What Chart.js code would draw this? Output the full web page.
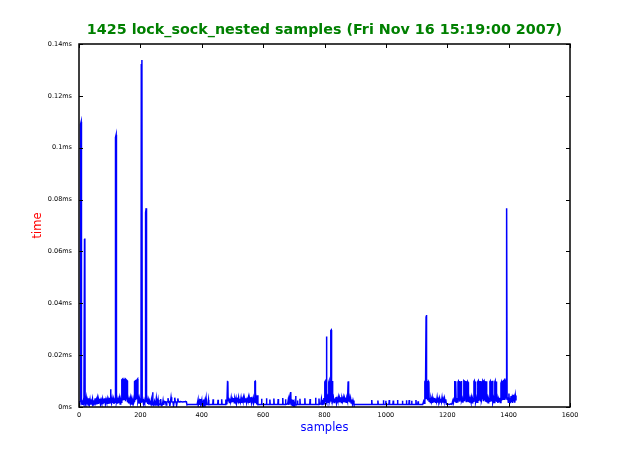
<!DOCTYPE html>
<html>
<head>
<meta charset="utf-8">
<script src="https://cdn.jsdelivr.net/npm/chart.js@4/dist/chart.umd.min.js"></script>
<style>
  body { margin: 0; background: #fff; }
  canvas { display: block; }
</style>
</head>
<body>
<canvas id="lockChart" width="633" height="453"></canvas>
<script>
// samples (x) vs time in ms (y)
const trace = [
  [0,0.0022],[2,0.0018],[4,0.0021],[5,0.109],[7,0.110],[8,0.0015],[10,0.002],[12,0.0008],[14,0.0022],[16,0.0012],
  [18,0.0645],[19,0.065],[20,0.0015],[22,0.0008],[24,0.0032],[26,0.001],[28,0.0025],[30,0.0008],[32,0.0034],[34,0.0012],
  [36,0.0028],[38,0.0009],[40,0.0022],[42,0.0015],[44,0.003],[46,0.0008],[48,0.0026],[50,0.0012],[52,0.0033],[54,0.0017],
  [56,0.0027],[58,0.001],[60,0.0031],[62,0.0014],[64,0.0028],[66,0.0018],[68,0.0032],[70,0.0012],[72,0.0026],[74,0.0016],
  [76,0.003],[78,0.0011],[80,0.0025],[82,0.0017],[84,0.0034],[86,0.0013],[88,0.0028],[90,0.0019],[92,0.0031],[94,0.0012],
  [96,0.0027],[98,0.0015],[100,0.0036],[102,0.0018],[103,0.0068],[104,0.0025],[106,0.0014],[108,0.0032],[110,0.0016],[112,0.003],
  [114,0.0012],[116,0.0026],[118,0.0018],[119,0.104],[121,0.105],[122,0.002],[124,0.0031],[126,0.0013],[128,0.0028],[130,0.0016],
  [132,0.0033],[134,0.0012],[136,0.0027],[138,0.0018],
  [139,0.0024],[140,0.0105],[142,0.0108],[143,0.0025],[144,0.0102],[146,0.0107],[147,0.003],[148,0.0106],[150,0.0104],[151,0.0022],
  [152,0.0108],[154,0.0105],[155,0.0028],[156,0.0103],[157,0.0101],[158,0.0018],[160,0.0032],[162,0.0014],[164,0.0029],[166,0.0019],
  [168,0.0034],[170,0.0012],[172,0.0027],[174,0.0017],[176,0.0031],[178,0.0015],[180,0.0022],[181,0.0098],[183,0.01],[184,0.0026],
  [185,0.0099],[187,0.0101],[188,0.003],[189,0.0104],[191,0.0108],[192,0.0022],[194,0.0033],[196,0.0015],[198,0.0028],[200,0.0018],
  [202,0.0024],[203,0.132],[205,0.1338],[206,0.002],[208,0.0031],[210,0.0014],[212,0.0027],[214,0.0017],[216,0.0021],[217,0.075],
  [219,0.0767],[220,0.0018],[222,0.003],[224,0.0012],[226,0.0026],[228,0.0009],[230,0.0024],[232,0.0015],[234,0.0011],[236,0.0028],
  [238,0.0009],[240,0.0057],[241,0.0012],[243,0.0008],
  [246,0.0022],[248,0.0008],[250,0.0012],[252,0.0033],[254,0.0009],[256,0.0008],[258,0.0027],[260,0.0008],[262,0.0011],[264,0.0009],
  [266,0.0031],[268,0.0008],[270,0.0007],[272,0.0009],[274,0.0025],[276,0.0008],[278,0.002],[280,0.0021],[282,0.002],[284,0.0008],
  [286,0.0019],[288,0.002],[290,0.0034],[292,0.0019],[294,0.002],[296,0.0004],[298,0.002],[300,0.0038],[302,0.002],[304,0.0019],
  [306,0.0021],[308,0.0005],[310,0.002],[312,0.0036],[314,0.0019],[316,0.0021],[318,0.0006],[320,0.002],[322,0.0033],[324,0.002],
  [326,0.0019],[328,0.002],[330,0.0021],[334,0.002],[338,0.0019],[342,0.002],[346,0.002],[348,0.0021],[350,0.002],[352,0.0008],
  [356,0.001],[370,0.001],[385,0.001],[388,0.0028],[389,0.0009],[392,0.0022],[394,0.0008],[396,0.0031],[397,0.001],[400,0.0026],
  [401,0.0009],[404,0.0012],[406,0.0029],[407,0.0009],[410,0.0024],[411,0.001],[414,0.0033],[415,0.0009],[420,0.001],[422,0.0027],
  [423,0.0009],[430,0.001],[436,0.001],[437,0.003],[438,0.001],[452,0.001],[453,0.0028],[454,0.001],[464,0.001],[465,0.003],
  [466,0.001],[477,0.001],[478,0.0029],[479,0.001],[482,0.0012],
  [484,0.0098],[485,0.0099],[486,0.0024],[488,0.0035],[490,0.0017],[492,0.0032],[494,0.002],[496,0.0036],[498,0.0018],[500,0.003],
  [502,0.0022],[504,0.0035],[506,0.0016],[508,0.0031],[510,0.0021],[512,0.0034],[514,0.0018],[516,0.0029],[518,0.0023],[520,0.0037],
  [522,0.0017],[524,0.0032],[526,0.002],[528,0.0035],[530,0.0016],[532,0.003],[534,0.0022],[536,0.0036],[538,0.0019],[540,0.0031],
  [542,0.0021],[544,0.0034],[546,0.0017],[548,0.003],[550,0.0023],[552,0.0036],[554,0.0018],[556,0.0032],[558,0.0021],[560,0.0038],
  [562,0.0017],[564,0.003],[566,0.0022],[568,0.0035],[570,0.0019],[572,0.0028],[573,0.0098],[574,0.0099],[575,0.0015],[577,0.0032],
  [579,0.001],[581,0.0045],[583,0.0009],
  [590,0.001],[594,0.001],[595,0.0032],[596,0.001],[610,0.001],[611,0.0034],[612,0.001],[621,0.001],[622,0.0029],[623,0.001],
  [634,0.001],[635,0.0033],[636,0.001],[648,0.001],[649,0.0031],[650,0.001],[663,0.001],[664,0.0035],[665,0.001],[672,0.001],
  [673,0.003],[674,0.001],[680,0.0012],[682,0.0028],[684,0.0008],[686,0.0033],[688,0.0015],[690,0.0058],[691,0.001],[693,0.003],
  [695,0.0006],[697,0.0028],[699,0.001],[701,0.002],[703,0.0009],[705,0.0012],[706,0.0042],[707,0.001],[711,0.001],[712,0.0025],
  [713,0.001],[719,0.001],[720,0.0032],[721,0.001],[735,0.001],[736,0.0034],[737,0.001],[752,0.001],[753,0.0031],[754,0.001],
  [770,0.001],[771,0.0036],[772,0.001],[781,0.001],[782,0.0033],[783,0.001],[788,0.0012],[790,0.003],[792,0.001],[794,0.0028],
  [796,0.0012],[798,0.0035],[800,0.0015],
  [801,0.0097],[802,0.0099],[803,0.002],[805,0.0035],[806,0.027],[807,0.0272],[808,0.0025],[810,0.0038],[812,0.0018],[814,0.0096],
  [815,0.01],[816,0.0022],[818,0.0033],[820,0.0025],[821,0.0295],[822,0.0297],[823,0.002],[825,0.0098],[826,0.01],[827,0.0024],
  [829,0.0036],[831,0.0017],[833,0.0033],[835,0.0021],[837,0.0038],[839,0.0016],[841,0.0031],[843,0.0023],[845,0.0037],[847,0.0018],
  [849,0.0034],[851,0.0021],[853,0.0038],[855,0.0017],[857,0.0032],[859,0.0022],[861,0.0036],[863,0.0019],[865,0.0034],[867,0.002],
  [869,0.0037],[871,0.0018],[873,0.0031],[875,0.0022],[877,0.0098],[878,0.0099],[879,0.0021],[881,0.0036],[883,0.0018],[885,0.0033],
  [887,0.0015],[889,0.0029],[891,0.0012],[893,0.0025],[896,0.001],
  [953,0.001],[954,0.0027],[955,0.001],[973,0.001],[974,0.0025],[975,0.001],[991,0.001],[992,0.0026],[993,0.001],[999,0.001],
  [1000,0.0024],[1001,0.001],[1010,0.001],[1011,0.0027],[1012,0.001],[1023,0.001],[1024,0.0025],[1025,0.001],[1037,0.001],[1038,0.0027],
  [1039,0.001],[1053,0.001],[1054,0.0024],[1055,0.001],[1066,0.001],[1067,0.0026],[1068,0.001],[1075,0.001],[1076,0.0027],[1077,0.001],
  [1083,0.001],[1084,0.0024],[1085,0.001],[1097,0.001],[1098,0.0027],[1099,0.001],[1104,0.001],[1105,0.0022],[1106,0.001],[1120,0.001],
  [1123,0.0022],[1125,0.0014],[1127,0.0098],[1128,0.01],[1129,0.003],[1131,0.035],[1132,0.0355],[1133,0.003],[1135,0.0099],[1136,0.01],
  [1137,0.0025],[1139,0.0098],[1140,0.0096],[1141,0.0022],[1143,0.0036],[1145,0.0017],[1147,0.0032],[1149,0.0021],[1151,0.0036],[1153,0.0016],
  [1155,0.003],[1157,0.0022],[1159,0.0035],[1161,0.0018],[1163,0.0033],[1165,0.0021],[1167,0.0037],[1169,0.0017],[1171,0.003],[1173,0.0023],
  [1175,0.0034],[1177,0.0019],[1179,0.0032],[1181,0.002],[1183,0.0036],[1185,0.0017],[1187,0.0031],[1189,0.0022],[1191,0.0034],[1193,0.0018],
  [1195,0.003],[1197,0.0011],[1200,0.001],[1205,0.0011],[1208,0.001],[1212,0.0012],[1215,0.001],[1218,0.0024],[1220,0.0016],
  [1222,0.0034],[1224,0.0098],[1225,0.01],[1226,0.0022],[1227,0.0099],[1228,0.0096],[1229,0.0018],[1231,0.0035],[1233,0.002],[1235,0.0097],
  [1236,0.0099],[1237,0.0025],[1239,0.01],[1240,0.0098],[1241,0.0021],[1243,0.0036],[1245,0.0097],[1246,0.01],[1247,0.0024],[1249,0.0033],
  [1251,0.0017],[1253,0.0034],[1254,0.0102],[1255,0.0101],[1256,0.0022],[1257,0.0099],[1258,0.0097],[1259,0.0028],[1260,0.01],[1261,0.0098],
  [1262,0.0021],[1263,0.0096],[1264,0.0099],[1265,0.0025],[1267,0.0097],[1268,0.0095],[1269,0.0019],[1271,0.0035],[1273,0.0017],[1275,0.0032],
  [1277,0.0021],[1279,0.0036],[1281,0.0016],[1283,0.003],[1285,0.0022],[1287,0.0099],[1288,0.0101],[1289,0.0024],[1291,0.0098],[1292,0.0096],
  [1293,0.002],[1295,0.0034],[1297,0.0018],[1299,0.0031],[1300,0.0098],[1301,0.0101],[1302,0.0023],[1303,0.0099],[1304,0.0097],[1305,0.0027],
  [1307,0.01],[1308,0.0098],[1309,0.0021],[1310,0.0096],[1311,0.0099],[1312,0.0024],[1314,0.0035],[1316,0.0101],[1317,0.0099],[1318,0.0022],
  [1319,0.0097],[1320,0.01],[1321,0.0026],[1323,0.0098],[1324,0.0096],[1325,0.002],[1327,0.0099],[1328,0.0097],[1329,0.0018],[1331,0.0034],
  [1333,0.0016],[1335,0.003],[1337,0.0022],[1339,0.0098],[1340,0.01],[1341,0.0024],[1343,0.0097],[1344,0.0099],[1345,0.0021],[1347,0.0101],
  [1348,0.0098],[1349,0.0019],[1351,0.0033],[1353,0.0017],[1355,0.0097],[1356,0.01],[1357,0.0023],[1359,0.0098],[1360,0.0095],[1361,0.002],
  [1363,0.0035],[1365,0.0016],[1367,0.0031],[1369,0.0021],[1371,0.0036],[1373,0.0017],[1375,0.0092],[1376,0.0095],[1377,0.0024],[1379,0.0098],
  [1380,0.01],[1381,0.0027],[1383,0.0101],[1384,0.0105],[1385,0.003],[1387,0.0108],[1388,0.011],[1389,0.0035],[1391,0.0105],[1392,0.0055],
  [1393,0.075],[1394,0.0767],[1395,0.003],[1397,0.0038],[1399,0.0018],[1401,0.0052],[1402,0.0021],[1404,0.0036],[1406,0.0015],[1408,0.0042],
  [1409,0.002],[1411,0.0034],[1413,0.0016],[1415,0.0047],[1416,0.0022],[1418,0.0035],[1420,0.0017],[1422,0.0044],[1424,0.0025]
];

const xTickLabels = ["0", "200", "400", "600", "800", "1000", "1200", "1400", "1600"];
const yTickLabels = ["0ms", "0.02ms", "0.04ms", "0.06ms", "0.08ms", "0.1ms", "0.12ms", "0.14ms"];

const chartTitle = "1425 lock_sock_nested samples (Fri Nov 16 15:19:00 2007)";
const xTitle = "samples";
const yTitle = "time";

// frame, inward ticks and the texts, drawn matplotlib-like
const framePlugin = {
  id: "frame",
  afterDraw(chart) {
    const ctx = chart.ctx;
    const a = chart.chartArea;
    const xs = chart.scales.x, ys = chart.scales.y;
    ctx.save();
    ctx.strokeStyle = "#000";
    ctx.lineWidth = 1;
    xs.ticks.forEach((t) => {
      const px = Math.round(xs.getPixelForValue(t.value)) + 0.5;
      ctx.beginPath();
      ctx.moveTo(px, a.bottom); ctx.lineTo(px, a.bottom - 4);
      ctx.moveTo(px, a.top); ctx.lineTo(px, a.top + 4);
      ctx.stroke();
    });
    ys.ticks.forEach((t) => {
      const py = Math.round(ys.getPixelForValue(t.value)) + 0.5;
      ctx.beginPath();
      ctx.moveTo(a.left, py); ctx.lineTo(a.left + 4, py);
      ctx.moveTo(a.right, py); ctx.lineTo(a.right - 4, py);
      ctx.stroke();
    });
    ctx.lineWidth = 1.5;
    ctx.strokeRect(a.left, a.top, a.right - a.left, a.bottom - a.top);

    ctx.textAlign = "center";
    ctx.textBaseline = "middle";
    ctx.fillStyle = "#008000";
    ctx.font = "bold 14.3px 'DejaVu Sans'";
    ctx.fillText(chartTitle, (a.left + a.right) / 2, 30.5);

    ctx.fillStyle = "#0000ff";
    ctx.font = "11.5px 'DejaVu Sans'";
    ctx.fillText(xTitle, (a.left + a.right) / 2, 428.5);

    ctx.fillStyle = "#ff0000";
    ctx.translate(38, (a.top + a.bottom) / 2);
    ctx.rotate(-Math.PI / 2);
    ctx.fillText(yTitle, 0, 0);
    ctx.restore();
  }
};

const ctx = document.getElementById("lockChart").getContext("2d");
new Chart(ctx, {
  type: "line",
  data: {
    datasets: [{
      data: trace.map(([s, t]) => ({ x: s, y: t })),
      borderColor: "#0000ff",
      borderWidth: 1.5,
      pointRadius: 0,
      tension: 0,
      fill: false
    }]
  },
  options: {
    responsive: false,
    devicePixelRatio: 1,
    animation: false,
    layout: { padding: { left: 0, top: 44, right: 63, bottom: 0 } },
    plugins: { legend: { display: false }, title: { display: false }, tooltip: { enabled: false } },
    scales: {
      x: {
        type: "linear",
        min: 0,
        max: 1600,
        grid: { display: false, drawTicks: false },
        border: { display: false },
        ticks: {
          stepSize: 200,
          padding: 4,
          color: "#000",
          maxRotation: 0,
          autoSkip: false,
          font: { family: "DejaVu Sans", size: 6.5 },
          callback: (v, i) => xTickLabels[i]
        },
        afterFit: (scale) => { scale.height = 46; }
      },
      y: {
        min: 0,
        max: 0.14,
        grid: { display: false, drawTicks: false },
        border: { display: false },
        ticks: {
          stepSize: 0.02,
          padding: 7,
          color: "#000",
          autoSkip: false,
          font: { family: "DejaVu Sans", size: 6.5 },
          callback: (v, i) => yTickLabels[i]
        },
        afterFit: (scale) => { scale.width = 79; }
      }
    }
  },
  plugins: [framePlugin]
});
</script>
</body>
</html>
